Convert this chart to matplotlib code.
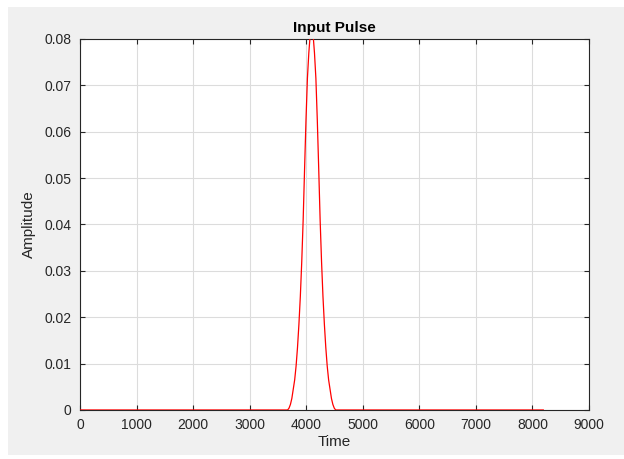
"""Input pulse in the MATLAB figure style (gray frame, boxed axes, light grid)."""

import matplotlib.pyplot as plt
from matplotlib.patches import Rectangle

# ---------------------------------------------------------------------------
# Data (pulse centred near t = 4096, flat zero elsewhere)
# ---------------------------------------------------------------------------
pulse_time = [
    0, 3671, 3696, 3721, 3746, 3771, 3796, 3821, 3846, 3871, 3896, 3921,
    3946, 3971, 3996, 4021, 4046, 4071, 4096, 4121, 4146, 4171, 4196, 4221,
    4246, 4271, 4296, 4321, 4346, 4371, 4396, 4421, 4446, 4471, 4496, 4521,
    8192,
]
pulse_amp = [
    0.0, 0.0, 0.0004, 0.0012, 0.0025, 0.0045, 0.0065, 0.0095, 0.0135,
    0.0185, 0.0245, 0.0320, 0.0410, 0.0520, 0.0625, 0.0715, 0.0770, 0.0810,
    0.0835, 0.0810, 0.0770, 0.0715, 0.0625, 0.0520, 0.0410, 0.0320, 0.0245,
    0.0185, 0.0135, 0.0095, 0.0065, 0.0045, 0.0025, 0.0012, 0.0004, 0.0,
    0.0,
]

x_ticks = [0, 1000, 2000, 3000, 4000, 5000, 6000, 7000, 8000, 9000]
y_ticks = [0, 0.01, 0.02, 0.03, 0.04, 0.05, 0.06, 0.07, 0.08]
y_tick_labels = ["0", "0.01", "0.02", "0.03", "0.04", "0.05", "0.06", "0.07", "0.08"]

# ---------------------------------------------------------------------------
# Plot
# ---------------------------------------------------------------------------
plt.rcParams["font.family"] = ["Liberation Sans", "DejaVu Sans"]

fig = plt.figure(figsize=(6.24, 4.59), dpi=100, facecolor="white")
# gray MATLAB figure window
fig.patches.append(
    Rectangle((0.0128, 0.0087), 0.9872, 0.976, transform=fig.transFigure,
              facecolor="#f0f0f0", edgecolor="none", zorder=-10)
)

ax = fig.add_axes([0.1282, 0.1068, 0.8157, 0.8083])
# drawn above the spines so the zero baseline shows red
ax.plot(pulse_time, pulse_amp, color="red", linewidth=0.9, zorder=3)

ax.set_xlim(0, 9000)
ax.set_ylim(0, 0.08)
ax.set_xticks(x_ticks)
ax.set_yticks(y_ticks)
ax.set_yticklabels(y_tick_labels)

ax.grid(True, color="#dcdcdc", linewidth=0.8)
ax.set_axisbelow(True)
for side in ax.spines.values():
    side.set_color("#262626")
    side.set_linewidth(0.8)
ax.tick_params(which="both", direction="in", top=True, right=True,
               length=3.5, width=0.8, color="#262626", labelcolor="#262626",
               labelsize=10, pad=6)

ax.set_xlabel("Time", fontsize=11, color="#262626", labelpad=2)
ax.set_ylabel("Amplitude", fontsize=11, color="#262626", labelpad=6)
ax.set_title("Input Pulse", fontsize=11, fontweight="bold", color="black", pad=5)

fig.savefig("out.png", dpi=100)
